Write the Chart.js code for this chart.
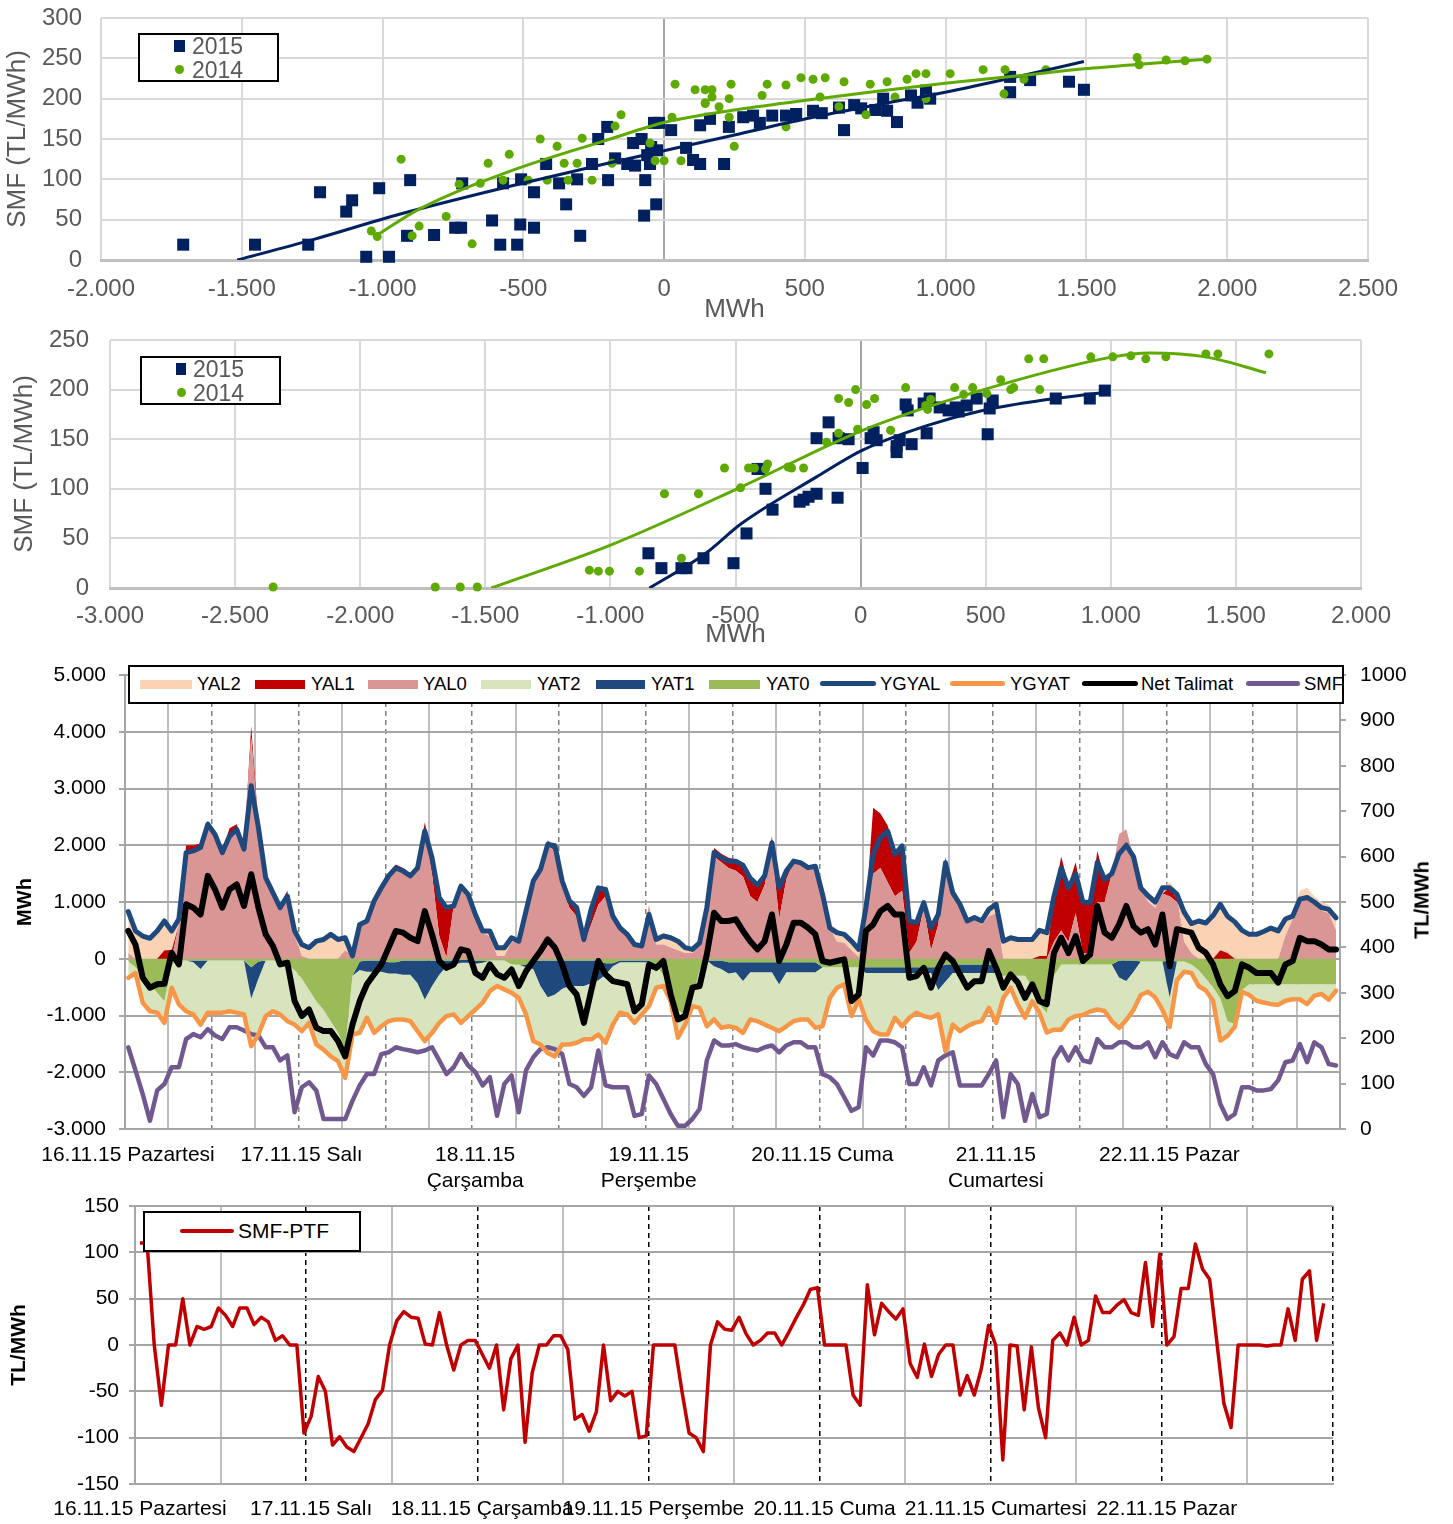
<!DOCTYPE html>
<html lang="tr">
<head>
<meta charset="UTF-8" />
<title>SMF - Dengeleme</title>
<script src="https://cdn.jsdelivr.net/npm/chart.js@4.4.1/dist/chart.umd.min.js"></script>
<style>
  body { margin: 0; background: #fff; font-family: "Liberation Sans", Arial, sans-serif; }
  .page { position: relative; width: 1453px; height: 1524px; overflow: hidden; }
  .box { position: absolute; left: 0; width: 1453px; }
  .legend { position: absolute; background: #fff; border: 2px solid #000; box-sizing: border-box; }
  .legend span, .legend i { position: absolute; display: block; white-space: nowrap; }
  .legend span { line-height: 24px; }
  .sq { background: #002060; }
  .dot { background: #5FAA00; border-radius: 50%; }
  .l3 span { font-size: 18.5px; line-height: 22px; top: 6px; color: #000; }
  .l3 .r { top: 13px; height: 9px; }
  .l3 .ln { top: 14px; height: 5px; border-radius: 3px; }
  .ytitle { position: absolute; transform: translate(-50%, -50%) rotate(-90deg); font-weight: bold; font-size: 20px; white-space: nowrap; }
</style>
</head>
<body>
<div class="page">
  <div class="box" style="top:0;height:325px"><canvas id="c1"></canvas></div>
  <div class="box" style="top:330px;height:320px"><canvas id="c2"></canvas></div>
  <div class="box" style="top:655px;height:540px"><canvas id="c3"></canvas></div>
  <div class="box" style="top:1195px;height:329px"><canvas id="c4"></canvas></div>

  <!-- legends -->
  <div class="legend" style="left:138px;top:33px;width:141px;height:49px;color:#595959;font-size:23px">
    <i class="sq" style="left:34px;top:5px;width:11px;height:12px"></i>
    <span style="left:52px;top:-1px">2015</span>
    <i class="dot" style="left:35px;top:30px;width:9px;height:9px"></i>
    <span style="left:52px;top:23px">2014</span>
  </div>
  <div class="legend" style="left:140px;top:356px;width:141px;height:49px;color:#595959;font-size:23px">
    <i class="sq" style="left:34px;top:5px;width:10px;height:12px"></i>
    <span style="left:51px;top:-1px">2015</span>
    <i class="dot" style="left:35px;top:30px;width:9px;height:9px"></i>
    <span style="left:51px;top:23px">2014</span>
  </div>
  <div class="legend l3" style="left:128px;top:665px;width:1216px;height:39px">
    <i class="r" style="left:10px;width:52px;background:#FAD3B4"></i><span style="left:67px">YAL2</span>
    <i class="r" style="left:125px;width:50px;background:#C00000"></i><span style="left:181px">YAL1</span>
    <i class="r" style="left:238px;width:50px;background:#DA9694"></i><span style="left:293px">YAL0</span>
    <i class="r" style="left:351px;width:50px;background:#D7E4BD"></i><span style="left:407px">YAT2</span>
    <i class="r" style="left:466px;width:49px;background:#1F497D"></i><span style="left:521px">YAT1</span>
    <i class="r" style="left:579px;width:51px;background:#9BBB59"></i><span style="left:636px">YAT0</span>
    <i class="ln" style="left:690px;width:56px;background:#1F497D"></i><span style="left:750px">YGYAL</span>
    <i class="ln" style="left:820px;width:55px;background:#F79646"></i><span style="left:880px">YGYAT</span>
    <i class="ln" style="left:952px;width:56px;background:#000"></i><span style="left:1011px">Net Talimat</span>
    <i class="ln" style="left:1116px;width:54px;background:#71598F"></i><span style="left:1174px">SMF</span>
  </div>
  <div class="legend" style="left:143px;top:1211px;width:218px;height:41px;font-size:21px">
    <i style="left:35px;top:16px;width:54px;height:4px;background:#C00000;border-radius:2px"></i>
    <span style="left:93px;top:6px">SMF-PTF</span>
  </div>
  <div class="ytitle" style="left:1422px;top:900px">TL/MWh</div>
</div>

<script>
  Chart.defaults.font.family = '"Liberation Sans", Arial, sans-serif';
  Chart.defaults.animation = false;
  Chart.defaults.plugins.legend.display = false;
  Chart.defaults.plugins.tooltip.enabled = false;

  const NAVY = "#002060";
  const GREEN = "#5FAA00";

  /** scatter 1 : MWh vs SMF */
  const s1_2015 = [[-1708,19],[-1453,19],[-1264,19],[-1222,84],[-1129,60],[-1108,74],[-1012,89],[-902,99],[-1058,4],[-977,4],[-913,30],[-817,31],[-742,40],[-721,40],[-717,95],[-611,49],[-582,19],[-522,19],[-511,44],[-462,40],[-572,95],[-508,100],[-462,84],[-419,119],[-373,95],[-348,69],[-309,100],[-298,30],[-256,119],[-234,150],[-202,165],[-199,99],[-174,126],[-131,119],[-110,145],[-103,117],[-71,55],[-67,99],[-50,119],[-46,140],[-28,69],[-36,170],[-18,170],[-25,136],[-80,150],[-60,130],[25,161],[78,139],[103,124],[128,119],[213,119],[128,167],[163,175],[230,165],[281,177],[316,179],[340,170],[384,179],[433,179],[469,181],[529,185],[560,182],[621,189],[639,161],[675,192],[700,188],[750,186],[778,200],[792,185],[827,171],[877,204],[900,195],[930,210],[945,200],[1229,227],[1229,208],[1300,223],[1438,221],[1491,211]];
  const s1_2014 = [[-1040,36],[-1019,29],[-934,125],[-895,30],[-870,42],[-774,54],[-728,94],[-682,20],[-653,95],[-625,120],[-572,99],[-550,131],[-483,99],[-440,150],[-415,99],[-380,141],[-355,120],[-341,99],[-309,120],[-291,151],[-256,99],[-185,120],[-174,166],[-153,180],[-50,145],[-32,123],[0,123],[28,177],[39,218],[60,123],[110,211],[146,211],[146,195],[146,194],[170,211],[170,202],[195,190],[231,200],[231,177],[238,218],[249,141],[348,204],[366,218],[433,165],[433,217],[486,226],[529,224],[554,202],[572,226],[621,190],[639,221],[717,180],[732,218],[792,221],[820,202],[863,224],[895,231],[930,231],[930,200],[1016,231],[1133,236],[1207,206],[1211,236],[1278,224],[1356,236],[1680,251],[1687,242],[1783,248],[1850,247],[1928,249]];
  const s1_fit2015 = [[-1516,0],[-1250,25],[-937,57],[-540,92],[-200,120],[7,136],[250,155],[504,175],[750,192],[998,208],[1250,227],[1491,246]];
  const s1_fit2014 = [[-1023,30],[-870,63],[-540,111],[-209,148],[7,171],[250,186],[504,198],[750,209],[998,219],[1250,228],[1491,237],[1700,243],[1928,249]];

  /** scatter 2 */
  const s2_2015 = [[-848,35],[-796,20],[-716,20],[-696,20],[-628,30],[-508,25],[-456,55],[-412,120],[-404,120],[-380,100],[-352,79],[-244,87],[-228,89],[-208,92],[-176,95],[-176,151],[-128,167],[-92,91],[-88,151],[-48,150],[8,121],[40,151],[52,157],[64,149],[144,143],[144,137],[156,149],[180,185],[188,179],[204,145],[252,186],[264,156],[276,191],[316,182],[352,179],[380,182],[392,178],[424,184],[464,191],[508,155],[516,181],[528,189],[780,191],[916,191],[976,199]];
  const s2_2014 = [[-2348,1],[-1700,1],[-1600,1],[-1532,1],[-1084,18],[-1048,17],[-1004,17],[-884,17],[-784,95],[-716,30],[-648,95],[-544,121],[-480,101],[-448,121],[-424,121],[-380,120],[-372,125],[-290,122],[-276,121],[-228,121],[-136,147],[-88,156],[-88,191],[-48,187],[-20,200],[-12,160],[24,185],[56,191],[120,159],[180,202],[260,184],[268,180],[280,190],[376,202],[412,195],[448,202],[504,196],[560,210],[600,200],[612,202],[672,231],[716,200],[732,231],[920,233],[1008,233],[1080,234],[1140,231],[1220,233],[1380,236],[1428,236],[1632,236]];
  const s2_fit2015 = [[-844,0],[-624,34],[-476,65],[-176,112],[8,139],[268,164],[488,179],[748,190],[972,197]];
  const s2_fit2014 = [[-1476,0],[-992,44],[-476,102],[8,159],[452,197],[1008,233],[1156,237],[1380,233],[1620,217]];

  /** hourly 16.11.15 - 22.11.15 */
  const days3 = ["16.11.15 Pazartesi", "17.11.15 Salı", ["18.11.15", "Çarşamba"], ["19.11.15", "Perşembe"], "20.11.15 Cuma", ["21.11.15", "Cumartesi"], "22.11.15 Pazar"];
  const days4 = ["16.11.15 Pazartesi", "17.11.15 Salı", "18.11.15 Çarşamba", "19.11.15 Perşembe", "20.11.15 Cuma", "21.11.15 Cumartesi", "22.11.15 Pazar"];

  const yal0 = [100,0,0,0,0,0,0,600,1850,1900, 1950,2350,2150,1850,2200,2250,1950,3900,2300,1450, 1200,950,1150,400,50,0,0,0,0,0, 150,50,600,650,1000,1250,1450,1600,1550,1450, 1600,2250,1500,400,20,930,1250,1135,780,450, 400,50,50,300,300,840,1350,1550,2000,1900, 1250,900,750,250,600,950,1100,700,480,400, 250,220,950,250,250,200,150,100,100,250, 850,1800,1700,1600,1550,1450,1100,1000,1300,1950, 700,1400,1700,1680,1600,1630,1130,550,300,280, 150,30,900,1500,1600,1350,1100,1200,100,300, 900,150,600,1690,1150,950,665,700,600,750, 800,0,0,0,0,0,0,0,300,500, 300,800,100,100,1000,1000,1500,2200,2280,1800, 1250,1000,900,1150,1100,1000,300,100,0,0, 0,0,0,0,0,0,0,0,0,0, 400,700,1000,1050,950,850,800,500];
  const yal1 = [0,0,0,0,0,150,150,0,150,100, 80,80,60,50,100,120,0,200,50,0, 0,0,50,0,0,0,0,0,0,0, 0,0,0,30,30,50,60,60,50,60, 60,150,300,700,880,0,60,0,0,0, 0,0,0,0,0,0,40,60,80,100, 120,120,150,100,270,300,150,80,80,50, 0,0,0,0,0,0,0,0,0,0, 50,150,150,180,200,200,300,300,200,200, 550,150,50,50,30,0,0,0,0,0, 0,0,0,1160,960,1000,800,800,600,350, 100,400,200,100,0,0,0,0,0,0, 0,0,0,0,0,0,50,50,800,1300, 1000,900,900,900,900,400,0,0,0,0, 0,0,0,0,150,50,0,0,0,0, 0,150,100,0,0,0,0,0,0,0, 0,0,0,0,0,0,0,0];
  const yal2 = [700,490,400,360,490,520,340,100,0,0, 0,0,0,0,0,0,0,0,0,0, 0,0,0,100,200,200,310,340,430,340, 200,0,0,0,0,0,0,0,0,0, 0,0,0,0,0,0,0,0,0,40, 90,145,145,70,20,0,0,0,0,0, 0,0,0,0,0,0,0,0,0,0, 0,0,0,150,200,200,150,100,70,30, 0,0,0,0,0,0,0,0,0,0, 0,0,0,0,0,0,0,50,150,150, 150,130,0,0,0,0,0,0,0,0, 0,0,0,0,0,0,0,30,100,150, 200,310,370,340,340,340,450,410,0,0, 0,0,0,0,0,0,0,0,0,0, 0,150,150,100,100,150,500,520,665,630, 760,810,650,650,500,430,430,480,540,490, 300,100,200,200,150,150,150,250];
  const yat0 = [-50,-150,-300,-450,-600,-750,-100,-30,-30,-30, -30,-30,-30,-30,-30,-30,-30,-150,-50,-30, -30,-30,-100,-200,-350,-550,-750,-900,-1100,-1300, -1600,-300,-50,-30,-30,-30,-60,-60,-30,-30, -30,-30,-30,-30,-30,-30,-20,-20,-40,-40, -30,-30,-30,-100,-100,-100,-30,-30,-30,-30, -30,-30,-30,-30,-30,-30,-80,-80,-30,-30, -30,-30,-30,-100,-300,-600,-900,-1000,-700,-200, -30,-30,-30,-60,-60,-60,-60,-60,-60,-60, -60,-60,-60,-60,-60,-60,-150,-150,-150,-150, -150,-150,-150,-150,-150,-150,-150,-150,-150,-150, -150,-150,-150,-100,-100,-100,-100,-100,-100,-100, -100,-300,-300,-300,-300,-500,-800,-950,-300,-100, -100,-100,-100,-100,-100,-100,-100,-30,-30,-30, -50,-50,-50,-50,-30,-50,-50,-100,-200,-350, -500,-700,-1100,-1150,-550,-450,-450,-450,-450,-450, -450,-450,-450,-450,-450,-450,-450,-450];
  const yat1 = [0,0,0,0,0,0,0,0,0,-30, -150,0,0,0,0,0,0,-550,-300,0, 0,0,0,0,0,0,0,0,0,0, 0,0,-150,-200,-200,-200,-200,-200,-250,-250, -400,-690,-450,-250,-100,-80,-50,-50,-50,-30, 0,0,0,0,0,-50,-150,-450,-650,-600, -500,-450,-450,-450,-400,-350,-200,-50,-30,-30, -30,-30,-30,0,0,0,0,0,0,0, 0,-100,-150,-200,-180,-330,-180,-180,-180,-180, -390,-180,-180,-180,-180,-180,0,0,0,0, 0,0,-100,-100,-100,-100,-100,-100,-100,-100, -100,-100,-400,-300,-150,-150,-150,-150,-150,-150, -150,0,0,0,0,0,0,0,0,0, 0,0,0,0,0,0,0,-300,-360,-200, 0,0,0,0,-650,0,0,0,0,0, 0,0,0,0,0,0,0,0,0,0, 0,0,0,0,0,0,0,0];
  const yat2 = [-285,-100,-475,-475,-350,-380,-410,-775,-895,-920, -980,-920,-920,-920,-895,-920,-950,-840,-985,-980, -895,-950,-1000,-960,-925,-580,-760,-700,-620,-505, -500,-1035,-1105,-810,-1075,-960,-840,-810,-790,-820, -845,-730,-825,-850,-880,-870,-1060,-940,-805,-705, -540,-450,-510,-500,-590,-830,-1270,-1030,-980,-1090, -980,-1030,-1000,-940,-990,-955,-1200,-1030,-890,-920, -1070,-920,-775,-410,-180,-145,-490,-160,-135,-665, -1160,-940,-1035,-930,-975,-915,-830,-860,-920,-975, -825,-950,-860,-830,-830,-975,-1040,-540,-360,-300, -860,-565,-820,-1025,-1085,-1085,-790,-940,-790,-700, -760,-790,-430,-1230,-910,-1025,-940,-880,-850,-615, -880,-390,-210,-505,-740,-250,-150,-350,-950,-1150, -970,-910,-890,-830,-795,-820,-1000,-890,-690,-670, -590,-530,-630,-850,-520,-330,-180,-150,-280,-210, -240,-740,-260,-50,-30,-190,-290,-320,-350,-360, -290,-265,-265,-350,-200,-170,-270,-110];
  const ygyal = [830,490,400,360,490,665,490,700,1870,1900, 1960,2370,2190,1870,2160,2280,1930,3050,2310,1430, 1165,900,1105,490,250,195,310,340,430,340, 370,50,605,665,1020,1250,1460,1600,1545,1460, 1600,2250,1780,1075,900,930,1280,1135,780,490, 490,195,195,370,310,840,1370,1575,2015,1990, 1370,1020,900,340,870,1250,1220,750,545,430, 250,225,780,340,400,370,310,195,165,280, 900,1870,1780,1720,1720,1650,1420,1300,1460,2045, 1250,1550,1720,1690,1605,1630,1135,545,460,430, 310,165,900,1840,2135,2250,1840,1990,665,635, 990,545,780,1690,1165,960,665,725,665,870, 960,310,370,340,340,340,500,460,1100,1600, 1250,1500,1000,990,1700,1400,1500,1850,2000,1800, 1250,1110,1000,1250,1250,1140,820,620,665,630, 760,960,750,650,500,430,430,480,540,490, 700,750,1050,1080,1000,900,870,720];
  const ygyat = [-335,-250,-775,-925,-950,-1130,-510,-805,-925,-980, -1160,-950,-950,-950,-925,-950,-980,-1540,-1335,-1010, -925,-980,-1100,-1160,-1275,-1130,-1510,-1600,-1720,-1805, -2100,-1335,-1305,-1040,-1305,-1190,-1100,-1070,-1070,-1100, -1275,-1450,-1305,-1130,-1010,-980,-1130,-1010,-895,-775, -570,-480,-540,-600,-690,-980,-1450,-1510,-1660,-1720, -1510,-1510,-1480,-1420,-1420,-1335,-1480,-1160,-950,-980, -1130,-980,-835,-510,-480,-745,-1390,-1160,-835,-865, -1190,-1070,-1215,-1190,-1215,-1305,-1070,-1100,-1160,-1215, -1275,-1190,-1100,-1070,-1070,-1215,-1190,-690,-510,-450, -1010,-715,-1070,-1275,-1335,-1335,-1040,-1190,-1040,-950, -1010,-1040,-980,-1630,-1160,-1275,-1190,-1130,-1100,-865, -1130,-690,-510,-805,-1040,-750,-950,-1300,-1250,-1250, -1070,-1010,-990,-930,-895,-920,-1100,-1220,-1080,-900, -640,-580,-680,-900,-1200,-380,-230,-250,-480,-560, -740,-1440,-1360,-1200,-580,-640,-740,-770,-800,-810, -740,-715,-715,-800,-650,-620,-720,-560];
  const netTalimat = [490,250,-335,-510,-450,-440,105,-100,960,900, 780,1460,1220,900,1220,1310,930,1490,900,430, 225,-100,-70,-745,-1010,-895,-1215,-1275,-1275,-1450, -1720,-1160,-745,-450,-275,-100,195,490,460,370, 310,840,430,-40,-160,-100,165,135,-250,-335, -100,-275,-335,-190,-480,-220,-40,135,340,195, -100,-480,-630,-1130,-570,-40,-275,-395,-420,-450, -925,-805,-100,-160,-40,-630,-1070,-1010,-510,-480, 75,810,665,665,695,490,310,165,310,780, -40,250,635,635,545,430,-40,-70,-40,-10, -745,-630,490,605,840,930,780,780,-335,-305, -160,-510,-160,75,-40,-275,-510,-395,-395,135, -160,-510,-275,-420,-690,-450,-750,-800,100,370, 100,400,-40,75,930,460,370,605,930,575, 460,520,250,780,-130,520,490,460,195,105, -100,-450,-660,-570,-100,-160,-250,-250,-250,-420, -100,-40,370,310,310,250,165,165];
  const smf = [180,129,77,18,85,99,136,136,198,209, 202,220,206,198,224,224,217,209,206,180, 180,151,162,37,92,103,85,22,22,22, 22,62,96,121,121,165,169,180,176,173, 169,173,180,151,121,136,165,140,125,96, 114,29,99,118,37,129,158,176,180,176, 165,99,92,73,92,173,96,92,92,92, 29,33,118,99,66,33,7,7,22,44, 151,195,184,184,187,180,176,173,180,184, 169,184,191,191,180,180,121,114,99,70, 40,48,180,162,195,195,191,180,99,99, 136,96,151,162,169,96,96,96,96,121, 151,26,121,99,18,77,26,33,154,180, 151,180,151,147,198,180,180,191,191,180, 180,191,158,191,165,158,191,180,180,143, 121,55,22,33,92,92,85,85,88,107, 147,151,187,147,191,180,143,140];
  const smfPtf = [110,110,0,-65,0,0,50,0,20,17, 20,40,32,20,40,40,22,30,25,5, 10,0,0,-95,-77,-34,-50,-108,-99,-110, -115,-100,-85,-59,-49,0,26,36,30,29, 1,0,35,0,-27,0,5,5,-10,-25, 0,-70,-15,0,-105,-30,0,0,10,10, -5,-80,-75,-93,-72,0,-60,-50,-55,-50, -100,-98,0,0,0,0,-50,-95,-100,-115, 0,25,17,16,30,12,0,5,13,13, 0,14,29,43,60,62,0,0,0,0, -54,-65,65,11,45,36,28,39,-20,-35, 1,-34,-10,0,0,-54,-33,-54,-25,21, 0,-124,0,-1,-70,-2,-68,-100,5,13, 0,30,0,5,53,35,35,43,49,35, 32,89,20,98,0,9,61,61,109,82, 71,4,-63,-89,0,0,0,0,-1,0, 0,39,5,71,80,5,45];

  function fmtTR(v) {
    const s = String(Math.abs(v)).replace(/\B(?=(\d{3})+(?!\d))/g, ".");
    return (v < 0 ? "-" : "") + s;
  }
  const toXY = (pairs) => pairs.map((p) => ({ x: p[0], y: p[1] }));
  const hourly = (arr, off) => arr.map((v, i) => ({ x: i + off, y: v }));

  function scatterChart(id, o) {
    return new Chart(document.getElementById(id), {
      type: "scatter",
      data: {
        datasets: [
          { data: toXY(o.fit14), showLine: true, borderColor: GREEN, borderWidth: 3, pointRadius: 0, cubicInterpolationMode: "monotone" },
          { data: toXY(o.fit15), showLine: true, borderColor: NAVY, borderWidth: 3, pointRadius: 0, cubicInterpolationMode: "monotone" },
          { data: toXY(o.p14), pointStyle: "circle", pointRadius: 4.5, pointBackgroundColor: GREEN, pointBorderWidth: 0, clip: 8 },
          { data: toXY(o.p15), pointStyle: "rect", pointRadius: 8.5, pointBackgroundColor: NAVY, pointBorderWidth: 0, clip: 8 },
        ],
      },
      options: {
        responsive: true,
        maintainAspectRatio: false,
        layout: { padding: { top: o.top, right: o.right, left: 0, bottom: 0 } },
        scales: {
          x: {
            type: "linear",
            min: o.xmin,
            max: o.xmax,
            ticks: { stepSize: 500, padding: o.xpad, color: "#595959", font: { size: 24 }, callback: fmtTR },
            grid: { drawTicks: false, lineWidth: 2, color: (c) => (c.tick && c.tick.value === 0 ? "#A6A6A6" : "#D9D9D9") },
            border: { color: "#BFBFBF", width: 3 },
            title: { display: true, text: "MWh", color: "#595959", font: { size: 26 }, padding: { top: 0, bottom: 0 } },
            afterFit: (s) => { s.height = o.xh; },
          },
          y: {
            min: 0,
            max: o.ymax,
            // gap to the labels comes from an invisible tick mark so it does not push the plot down
            ticks: { stepSize: 50, padding: 0, color: "#595959", font: { size: 24, lineHeight: 0.8 } },
            grid: { drawTicks: true, tickLength: o.ypad, tickColor: "rgba(0,0,0,0)", lineWidth: 2, color: "#D9D9D9" },
            border: { display: false },
            title: { display: true, text: "SMF (TL/MWh)", color: "#595959", font: { size: 26 }, padding: { top: o.ytp, bottom: 0 } },
            afterFit: (s) => { s.width = o.yw; },
          },
        },
      },
    });
  }

  scatterChart("c1", { p15: s1_2015, p14: s1_2014, fit15: s1_fit2015, fit14: s1_fit2014, xmin: -2000, xmax: 2500, ymax: 300, top: 18, right: 85, xh: 65, yw: 101, xpad: 15, ypad: 19, ytp: 2 });
  scatterChart("c2", { p15: s2_2015, p14: s2_2014, fit15: s2_fit2015, fit14: s2_fit2014, xmin: -3000, xmax: 2000, ymax: 250, top: 10, right: 92, xh: 62, yw: 110, xpad: 14, ypad: 21, ytp: 9 });

  /** stacked balancing chart */
  const OFF3 = 0.45;
  const area = (label, data, color, stack, fill) => ({
    label, data: hourly(data, OFF3), backgroundColor: color, borderWidth: 0, pointRadius: 0, fill, stack, order: 10, yAxisID: "y",
  });
  const line = (label, data, color, w, axis, order) => ({
    label, data: hourly(data, OFF3), borderColor: color, borderWidth: w, pointRadius: 0, fill: false, stack: label, order, yAxisID: axis,
    borderJoinStyle: "round", borderCapStyle: "round",
  });
  const isHalfDay = (c) => c.type === "tick" && c.tick.value > 0 && c.tick.value < 168 && c.tick.value % 12 === 0;

  new Chart(document.getElementById("c3"), {
    type: "line",
    data: {
      datasets: [
        area("YAL0", yal0, "#DA9694", "pos", "origin"),
        area("YAL1", yal1, "#C00000", "pos", "-1"),
        area("YAL2", yal2, "#FAD3B4", "pos", "-1"),
        area("YAT0", yat0, "#9BBB59", "neg", "origin"),
        area("YAT1", yat1, "#1F497D", "neg", "-1"),
        area("YAT2", yat2, "#D7E4BD", "neg", "-1"),
        line("YGYAL", ygyal, "#1F497D", 5, "y", 1),
        line("YGYAT", ygyat, "#F79646", 4.5, "y", 2),
        line("Net Talimat", netTalimat, "#000000", 6, "y", 0),
        line("SMF", smf, "#71598F", 4.5, "y2", 3),
      ],
    },
    options: {
      responsive: true,
      maintainAspectRatio: false,
      layout: { padding: { top: 20, right: 0, left: 0, bottom: 0 } },
      scales: {
        x: {
          type: "linear",
          min: 0,
          max: 168,
          ticks: { stepSize: 6, autoSkip: false, maxRotation: 0, padding: 14, labelOffset: 3, color: "#000", font: { size: 21 },
            callback: (v) => (v % 24 === 0 && v < 168 ? days3[v / 24] : "") },
          grid: { drawTicks: false, color: (c) => (isHalfDay(c) ? "#808080" : "#BFBFBF"), lineWidth: (c) => (isHalfDay(c) ? 1.5 : 2) },
          border: { color: "#A6A6A6", width: 2, dash: (c) => (isHalfDay(c) ? [5, 4] : []) },
          afterFit: (s) => { s.height = 66; },
        },
        y: {
          position: "left",
          stacked: true,
          min: -3000,
          max: 5000,
          ticks: { stepSize: 1000, padding: 13, color: "#000", font: { size: 21, lineHeight: 0.6 }, callback: fmtTR },
          grid: { color: "#A6A6A6", lineWidth: 2, tickLength: 6 },
          border: { color: "#A6A6A6", width: 2 },
          title: { display: true, text: "MWh", color: "#000", font: { size: 20, weight: "bold" }, padding: { top: 13, bottom: 0 } },
          afterFit: (s) => { s.width = 125; },
        },
        y2: {
          position: "right",
          min: 0,
          max: 1000,
          ticks: { stepSize: 100, padding: 14, color: "#000", font: { size: 21, lineHeight: 0.5 }, callback: (v) => String(v) },
          grid: { drawOnChartArea: false, color: "#A6A6A6", lineWidth: 2, tickLength: 6 },
          border: { color: "#A6A6A6", width: 2 },
          afterFit: (s) => { s.width = 113; },
        },
      },
    },
  });

  /** SMF-PTF */
  const isDay = (c) => c.type === "tick" && c.tick.value > 0 && c.tick.value % 24 === 0;
  new Chart(document.getElementById("c4"), {
    type: "line",
    data: {
      datasets: [
        { label: "SMF-PTF", data: hourly(smfPtf, 0.7), borderColor: "#C00000", borderWidth: 3.5, pointRadius: 0, fill: false, borderJoinStyle: "round" },
      ],
    },
    options: {
      responsive: true,
      maintainAspectRatio: false,
      layout: { padding: { top: 11, right: 120, left: 0, bottom: 0 } },
      scales: {
        x: {
          type: "linear",
          min: 0,
          max: 168,
          ticks: { stepSize: 12, autoSkip: false, maxRotation: 0, padding: 13, labelOffset: 5, color: "#000", font: { size: 21 },
            callback: (v) => (v % 24 === 0 && v < 168 ? days4[v / 24] : "") },
          grid: { drawTicks: false, color: (c) => (isDay(c) ? "#000" : "#BFBFBF"), lineWidth: (c) => (isDay(c) ? 1.5 : 2) },
          border: { color: "#A6A6A6", width: 2, dash: (c) => (isDay(c) ? [5, 4] : []) },
          afterFit: (s) => { s.height = 40; },
        },
        y: {
          min: -150,
          max: 150,
          ticks: { stepSize: 50, padding: 10, color: "#000", font: { size: 21, lineHeight: 0.1 } },
          grid: { color: "#A6A6A6", lineWidth: 2, tickLength: 6 },
          border: { color: "#A6A6A6", width: 2 },
          title: { display: true, text: "TL/MWh", color: "#000", font: { size: 21, weight: "bold" }, padding: { top: 7, bottom: 0 } },
          afterFit: (s) => { s.width = 135; },
        },
      },
    },
  });
</script>
</body>
</html>
